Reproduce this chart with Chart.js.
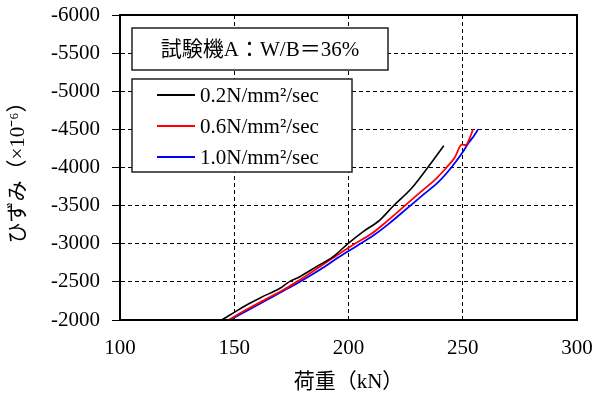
<!DOCTYPE html>
<html>
<head>
<meta charset="utf-8">
<script src="https://cdn.jsdelivr.net/npm/chart.js@4/dist/chart.umd.min.js"></script>
<style>
  html, body { margin: 0; padding: 0; background: #fff; }
  #wrap { width: 604px; height: 396px; }
</style>
</head>
<body>
<div id="wrap"><canvas id="chart" width="604" height="396"></canvas></div>
<script>
// 荷重 (kN) と ひずみ (×10^-6) の読み取り値
const seriesLabels = ['0.2N/mm²/sec', '0.6N/mm²/sec', '1.0N/mm²/sec'];
const seriesColors = ['#000000', '#ff0000', '#0000ff'];

const load02 = [144.5, 150, 155.4, 162, 170, 174, 178.7, 186, 193.3, 199.9, 206, 213.7, 219.6, 227.6, 234.7, 241.7];
const strain02 = [-2000, -2100, -2197, -2300, -2416, -2500, -2568, -2700, -2830, -3006, -3150, -3311, -3495, -3727, -4000, -4286];

const load06 = [147.4, 155, 163, 171.4, 177.3, 187.5, 195, 202.8, 210, 217, 224.7, 232, 238.5, 242.9, 246.5, 249.5, 251.4, 253, 254.5];
const strain06 = [-2000, -2130, -2260, -2393, -2500, -2700, -2850, -3000, -3130, -3300, -3500, -3690, -3858, -4000, -4130, -4300, -4295, -4383, -4500];

const load10 = [148, 156, 164, 172, 178, 188.5, 196, 203.8, 211, 218, 225.5, 233, 239.5, 245, 249.5, 252.5, 255, 256.7];
const strain10 = [-2000, -2130, -2260, -2390, -2490, -2680, -2830, -2975, -3110, -3270, -3460, -3650, -3814, -4000, -4180, -4320, -4420, -4500];

const xTicks = [100, 150, 200, 250, 300];
const yTicks = [-6000, -5500, -5000, -4500, -4000, -3500, -3000, -2500, -2000];

const boxTitle = '試験機A：W/B＝36%';
const xTitle = '荷重（kN）';
const yTitle = 'ひずみ（×10⁻⁶）';

const serif = "'Liberation Serif', 'Times New Roman', 'Noto Sans CJK JP', serif";

function toPoints(xs, ys) {
  return xs.map((x, i) => ({ x: x, y: ys[i] }));
}

const loads = [load02, load06, load10];
const strains = [strain02, strain06, strain10];

const datasets = seriesLabels.map((lab, i) => ({
  label: lab,
  data: toPoints(loads[i], strains[i]),
  borderColor: seriesColors[i],
  borderWidth: i === 0 ? 1.6 : 1.8,
  pointRadius: 0,
  showLine: true,
  fill: false,
  cubicInterpolationMode: 'monotone'
}));

// 枠・注記ボックス・凡例ボックス
const framePlugin = {
  id: 'frame',
  afterDatasetsDraw(chart) {
    const ctx = chart.ctx;
    const a = chart.chartArea;
    ctx.save();
    ctx.strokeStyle = '#000';
    ctx.lineWidth = 2;
    ctx.strokeRect(a.left, a.top, a.right - a.left, a.bottom - a.top);

    // 注記ボックス
    const bx = a.left + 12, by = a.top + 13, bw = 256, bh = 42;
    ctx.fillStyle = '#fff';
    ctx.fillRect(bx, by, bw, bh);
    ctx.strokeStyle = '#222';
    ctx.lineWidth = 1.5;
    ctx.strokeRect(bx, by, bw, bh);
    ctx.fillStyle = '#000';
    ctx.font = '21px ' + serif;
    ctx.textAlign = 'center';
    ctx.textBaseline = 'middle';
    ctx.fillText(boxTitle, bx + bw / 2, by + bh / 2 + 1);

    // 凡例ボックス
    const lx = a.left + 12, ly = a.top + 64, lw = 220, lh = 93;
    ctx.fillStyle = '#fff';
    ctx.fillRect(lx, ly, lw, lh);
    ctx.strokeStyle = '#222';
    ctx.strokeRect(lx, ly, lw, lh);
    ctx.textAlign = 'left';
    chart.data.datasets.forEach((ds, i) => {
      const yy = ly + 16 + i * 31;
      ctx.strokeStyle = ds.borderColor;
      ctx.lineWidth = 2;
      ctx.beginPath();
      ctx.moveTo(lx + 25, yy);
      ctx.lineTo(lx + 63, yy);
      ctx.stroke();
      ctx.fillStyle = '#000';
      ctx.fillText(ds.label, lx + 68, yy + 1);
    });
    ctx.restore();
  }
};

new Chart(document.getElementById('chart'), {
  type: 'scatter',
  data: { datasets: datasets },
  plugins: [framePlugin],
  options: {
    responsive: false,
    animation: false,
    layout: { padding: { top: 15, right: 27, left: 0, bottom: 0 } },
    plugins: {
      legend: { display: false },
      tooltip: { enabled: false }
    },
    scales: {
      x: {
        type: 'linear',
        min: 100,
        max: 300,
        afterBuildTicks: s => { s.ticks = xTicks.map(v => ({ value: v })); },
        afterFit: s => { s.height = 76; s.paddingLeft = 0; s.paddingRight = 0; },
        ticks: {
          color: '#000',
          font: { family: serif, size: 21 },
          padding: 16,
          callback: v => String(v)
        },
        grid: {
          color: '#000',
          lineWidth: 1,
          drawTicks: false
        },
        border: { display: true, color: '#000', width: 2, dash: [4, 3] },
        title: {
          display: true,
          text: xTitle,
          color: '#000',
          font: { family: serif, size: 21 },
          padding: { top: 1, bottom: 1 }
        }
      },
      y: {
        type: 'linear',
        reverse: true,
        min: -6000,
        max: -2000,
        afterBuildTicks: s => { s.ticks = yTicks.map(v => ({ value: v })); },
        afterFit: s => { s.width = 120; s.paddingTop = 0; s.paddingBottom = 0; },
        ticks: {
          color: '#000',
          font: { family: serif, size: 21 },
          padding: 12,
          callback: v => String(v)
        },
        grid: {
          color: '#000',
          lineWidth: 1,
          tickLength: 8,
          tickColor: '#000'
        },
        border: { display: true, color: '#000', width: 2, dash: [4, 3] },
        title: {
          display: true,
          text: yTitle,
          color: '#000',
          font: { family: serif, size: 21 },
          padding: 6
        }
      }
    }
  }
});
</script>
</body>
</html>
